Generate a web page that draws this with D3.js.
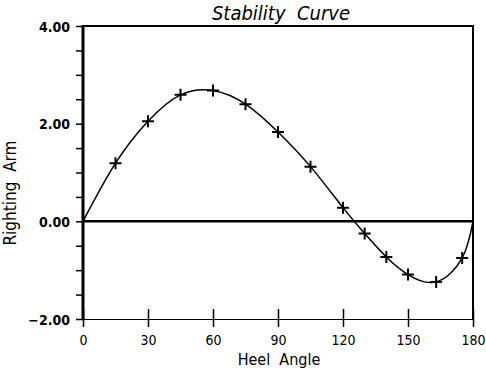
<!DOCTYPE html>
<html>
<head>
<meta charset="utf-8">
<script src="https://cdn.jsdelivr.net/npm/d3@7"></script>
<style>
  body { margin: 0; background: #fff; }
  text { font-family: "Liberation Sans Narrow", "DejaVu Sans Condensed", "Liberation Sans", sans-serif; fill: #000; }
</style>
</head>
<body>
<script>
'use strict';
// heel angle (deg) and righting arm readings at the marked points
let heelAngles = [15, 30, 45, 60, 75, 90, 105, 120, 130, 140, 150, 163, 175];
let rightingArms = [1.19, 2.05, 2.59, 2.68, 2.40, 1.83, 1.12, 0.28, -0.25, -0.73, -1.09, -1.24, -0.75];
// curve starts and ends on the zero line
let curveAngles = [0].concat(heelAngles, [180]);
let curveArms = [0].concat(rightingArms, [0]);
let xTicks = [0, 30, 60, 90, 120, 150, 180];
let yMajorTicks = [-2, 0, 2, 4];
let yMinorTicks = [-2, -1.5, -1, -0.5, 0, 0.5, 1, 1.5, 2, 2.5, 3, 3.5, 4];

let svg = d3.select('body').append('svg')
  .attr('width', 486)
  .attr('height', 374);

let xScale = d3.scaleLinear().domain([0, 180]).range([83, 473]);
let yScale = d3.scaleLinear().domain([-2, 4]).range([319, 26]);

// frame
svg.append('line').attr('x1', 83).attr('x2', 474).attr('y1', 26).attr('y2', 26)
  .attr('stroke', '#000').attr('stroke-width', 2);
svg.append('line').attr('x1', 473).attr('x2', 473).attr('y1', 26).attr('y2', 319)
  .attr('stroke', '#000').attr('stroke-width', 2);
svg.append('line').attr('x1', 83).attr('x2', 473).attr('y1', 319.5).attr('y2', 319.5)
  .attr('stroke', '#000').attr('stroke-width', 1);

// y axis
let yAxis = d3.axisLeft(yScale).tickValues(yMinorTicks).tickSize(7)
  .tickFormat((d) => yMajorTicks.includes(d) ? d3.format('.2f')(d).replace('-', '\u2212') : '');
let gy = svg.append('g').attr('transform', 'translate(83,0)').call(yAxis);
gy.select('.domain').remove();
gy.selectAll('.tick line').attr('stroke', '#000').attr('stroke-width', 1.5);
gy.selectAll('.tick text').attr('x', -13).attr('dy', '0.36em')
  .style('font-size', '14px').style('font-weight', 'bold');
svg.append('line').attr('x1', 83).attr('x2', 83).attr('y1', 25).attr('y2', 320)
  .attr('stroke', '#000').attr('stroke-width', 3);

// x axis, ticks cross the bottom line
let xAxis = d3.axisBottom(xScale).tickValues(xTicks).tickSize(18).tickFormat(d3.format('d'));
let gx = svg.append('g').attr('transform', 'translate(0,309)').call(xAxis);
gx.select('.domain').remove();
gx.selectAll('.tick line').attr('stroke', '#000').attr('stroke-width', 1.5);
gx.selectAll('.tick text').attr('y', 26).attr('dy', '0.71em').style('font-size', '14px');

// zero line
svg.append('line').attr('x1', xScale(0)).attr('x2', xScale(180))
  .attr('y1', yScale(0)).attr('y2', yScale(0))
  .attr('stroke', '#000').attr('stroke-width', 2.5);

// curve
let curveData = curveAngles.map((a, i) => ({ a: a, r: curveArms[i] }));
let line = d3.line()
  .x((d) => xScale(d.a))
  .y((d) => yScale(d.r))
  .curve(d3.curveNatural);
svg.append('path')
  .datum(curveData)
  .attr('fill', 'none')
  .attr('stroke', '#000')
  .attr('stroke-width', 1.5)
  .attr('d', line);

// cross markers
let marks = heelAngles.map((a, i) => ({ a: a, r: rightingArms[i] }));
svg.append('g').selectAll('path')
  .data(marks)
  .enter()
  .append('path')
  .attr('d', (d) => {
    let x = xScale(d.a), y = yScale(d.r);
    return 'M' + (x - 6) + ',' + y + 'H' + (x + 6) + 'M' + x + ',' + (y - 6) + 'V' + (y + 6);
  })
  .attr('stroke', '#000')
  .attr('stroke-width', 2);

// titles
svg.append('text')
  .attr('x', 281).attr('y', 20)
  .attr('text-anchor', 'middle')
  .style('font-size', '20px').style('font-style', 'italic')
  .attr('xml:space', 'preserve')
  .text('Stability  Curve');
svg.append('text')
  .attr('x', 279).attr('y', 365)
  .attr('text-anchor', 'middle')
  .style('font-size', '16px')
  .attr('xml:space', 'preserve')
  .text('Heel  Angle');
svg.append('text')
  .attr('transform', 'translate(16,193)rotate(-90)')
  .attr('text-anchor', 'middle')
  .style('font-size', '17px')
  .attr('xml:space', 'preserve')
  .text('Righting  Arm');
</script>
</body>
</html>
